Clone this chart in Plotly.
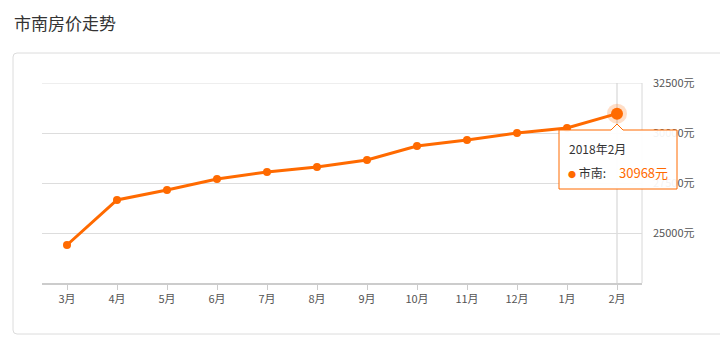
import plotly.graph_objects as go

months = ["3月", "4月", "5月", "6月", "7月", "8月", "9月", "10月", "11月", "12月", "1月", "2月"]
prices = [24400, 26650, 27150, 27700, 28050, 28300, 28650, 29350, 29650, 30000, 30250, 30968]
y_ticks = [25000, 27500, 30000, 32500]
y_tick_labels = ["25000元", "27500元", "30000元", "32500元"]
title_text = "市南房价走势"
tip_title = "2018年2月"
tip_series = "市南"

ORANGE = "#ff6a00"
FONT = "Noto Sans CJK SC, Noto Sans, sans-serif"

W, H = 720, 344
L, R, T, B = 42, 78, 83, 61
PW, PH = W - L - R, H - T - B


def px(x):
    return (x - L) / PW


def py(y):
    return (H - B - y) / PH


fig = go.Figure()

# halo + highlighted last point
fig.add_trace(go.Scatter(x=[months[-1]], y=[prices[-1]], mode="markers",
                         marker=dict(size=20, color="rgba(255,106,0,0.22)"),
                         hoverinfo="skip", showlegend=False))
fig.add_trace(go.Scatter(x=months, y=prices, mode="lines+markers",
                         line=dict(color=ORANGE, width=3),
                         marker=dict(size=8, color=ORANGE),
                         showlegend=False))
fig.add_trace(go.Scatter(x=[months[-1]], y=[prices[-1]], mode="markers",
                         marker=dict(size=12, color=ORANGE),
                         hoverinfo="skip", showlegend=False))

shapes = []
# outer panel (rounded)
x0, x1, y0, y1, r = px(13), px(730), py(53), py(334), 4
rx, ry = r / PW, r / PH
shapes.append(dict(type="path", xref="paper", yref="paper", layer="below",
                   path=(f"M {x0+rx},{y0} L {x1-rx},{y0} Q {x1},{y0} {x1},{y0-ry} "
                         f"L {x1},{y1+ry} Q {x1},{y1} {x1-rx},{y1} L {x0+rx},{y1} "
                         f"Q {x0},{y1} {x0},{y1+ry} L {x0},{y0-ry} Q {x0},{y0} {x0+rx},{y0} Z"),
                   line=dict(color="#dcdcdc", width=1), fillcolor="white"))
# top gridline (at range edge)
shapes.append(dict(type="line", xref="paper", yref="y", x0=0, x1=1, y0=y_ticks[-1], y1=y_ticks[-1],
                   line=dict(color="#dddddd", width=1), layer="below"))
# right border of plot
shapes.append(dict(type="line", xref="paper", yref="paper", x0=1, x1=1, y0=0, y1=1,
                   line=dict(color="#d8d8d8", width=1), layer="below"))
# crosshair at last category
shapes.append(dict(type="line", xref="x", yref="paper", x0=months[-1], x1=months[-1], y0=0, y1=1,
                   line=dict(color="#cfcfcf", width=1), layer="below"))
# tooltip box with notch
bx0, bx1, by0, by1 = px(559), px(677), py(130), py(189)
nx = px(617)
nw = 6 / PW
nh = py(124) - by0
shapes.append(dict(type="path", xref="paper", yref="paper", layer="above",
                   path=(f"M {bx0},{by0} L {nx-nw},{by0} L {nx},{by0+nh} L {nx+nw},{by0} "
                         f"L {bx1},{by0} L {bx1},{by1} L {bx0},{by1} Z"),
                   line=dict(color=ORANGE, width=1), fillcolor="rgba(255,255,255,0.93)"))

annotations = [
    dict(text=title_text, xref="paper", yref="paper", x=px(12), y=py(22), xanchor="left",
         yanchor="middle", showarrow=False, font=dict(size=17, color="#333", family=FONT)),
    dict(text=tip_title, xref="paper", yref="paper", x=px(567), y=py(148), xanchor="left",
         yanchor="middle", showarrow=False, font=dict(size=12, color="#333", family=FONT)),
    dict(text=f"<span style='color:{ORANGE};font-size:8px'>●</span> {tip_series}:", xref="paper",
         yref="paper", x=px(566), y=py(172), xanchor="left", yanchor="middle", showarrow=False,
         font=dict(size=12, color="#333", family=FONT)),
    dict(text=f"{prices[-1]}元", xref="paper", yref="paper", x=px(670), y=py(172),
         xanchor="right", yanchor="middle", showarrow=False,
         font=dict(size=13, color=ORANGE, family=FONT)),
]

fig.update_layout(
    width=W, height=H, margin=dict(l=L, r=R, t=T, b=B),
    paper_bgcolor="white", plot_bgcolor="rgba(0,0,0,0)",
    font=dict(family=FONT, size=11, color="#555"),
    shapes=shapes, annotations=annotations, showlegend=False,
    xaxis=dict(type="category", categoryorder="array", categoryarray=months,
               range=[-0.5, len(months) - 0.5], showgrid=False,
               showline=True, linecolor="#cccccc", linewidth=2,
               ticks="outside", ticklen=5, tickcolor="#cccccc",
               tickfont=dict(size=11, color="#555"), fixedrange=True),
    yaxis=dict(range=[22500, 32500], side="right", tickvals=y_ticks, ticktext=y_tick_labels,
               showgrid=True, gridcolor="#dddddd", gridwidth=1, zeroline=False,
               showline=False, ticks="", ticklabelstandoff=10,
               tickfont=dict(size=11, color="#555"), fixedrange=True),
)

fig.write_html("out.html")
